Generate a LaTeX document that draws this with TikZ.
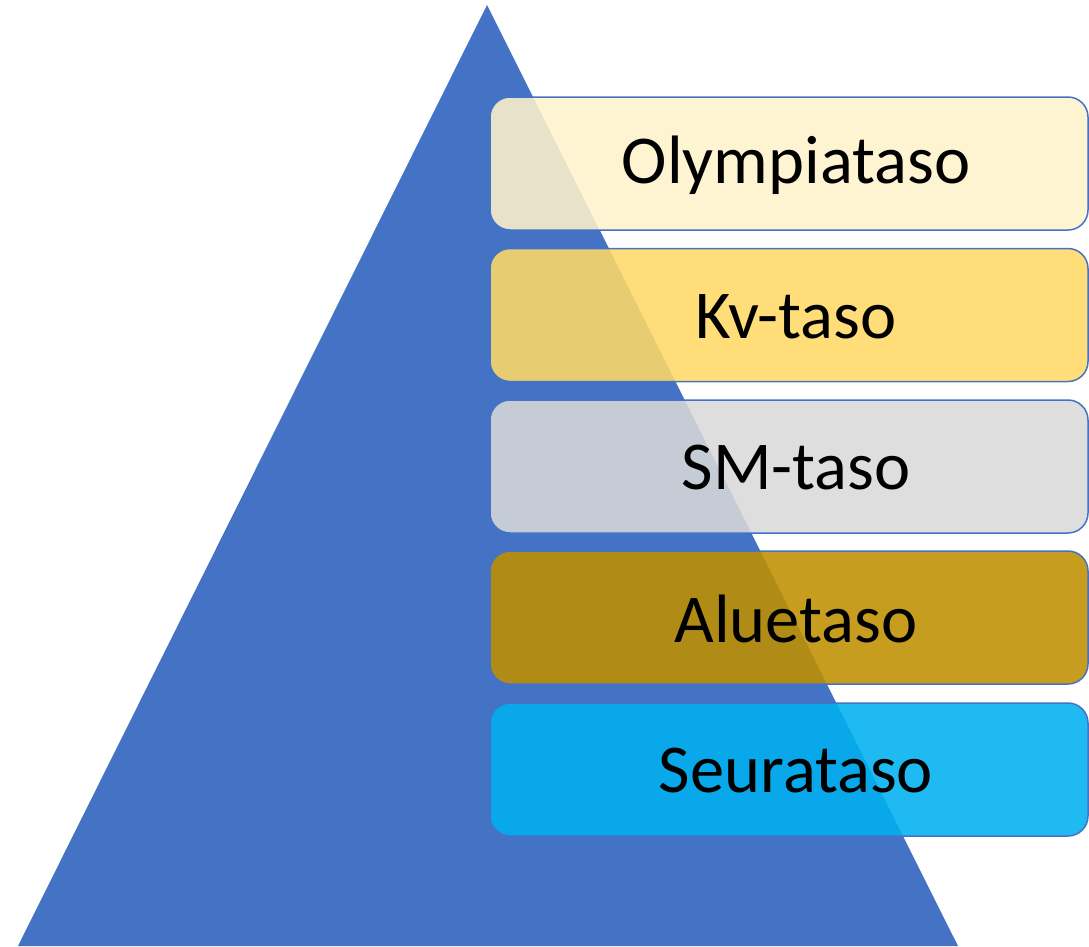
\documentclass[tikz,border=0pt]{standalone}
\usepackage{fontspec}
\setmainfont{Carlito}
\definecolor{triblue}{HTML}{4472C4}
\definecolor{cOly}{HTML}{FFF2CC}
\definecolor{cKv}{HTML}{FFD966}
\definecolor{cSM}{HTML}{D9D9D9}
\definecolor{cAlue}{HTML}{BF9000}
\definecolor{cSeura}{HTML}{00B0F0}
\tikzset{
  levelbox/.style={draw=triblue, line width=1.5pt, rounded corners=20pt, fill opacity=0.88, text opacity=1,
    minimum width=598pt, minimum height=133pt, inner sep=0pt},
  leveltext/.style={font=\fontsize{68.5}{82}\selectfont, text=black},
}
\begin{document}
\begin{tikzpicture}[x=1pt,y=-1pt]
\useasboundingbox (0,0) rectangle (1089,946);
\fill[triblue] (487,5) coordinate (apex) -- (958,946) coordinate (br) -- (18,946) coordinate (bl) -- cycle;
\node[levelbox, fill=cOly] (oly) at (789,163.5) {};
\node[levelbox, fill=cKv] (kv) at (789,315) {};
\node[levelbox, fill=cSM] (sm) at (789,466.5) {};
\node[levelbox, fill=cAlue] (alue) at (789,617.5) {};
\node[levelbox, fill=cSeura] (seura) at (789,769.5) {};
\node[leveltext] (toly) at (796,165) {Olympiataso};
\node[leveltext] (tkv) at (796,316.5) {Kv-taso};
\node[leveltext] (tsm) at (796,468) {SM-taso};
\node[leveltext] (talue) at (796,619) {Aluetaso};
\node[leveltext] (tseura) at (796,771) {Seurataso};
\end{tikzpicture}
\end{document}
